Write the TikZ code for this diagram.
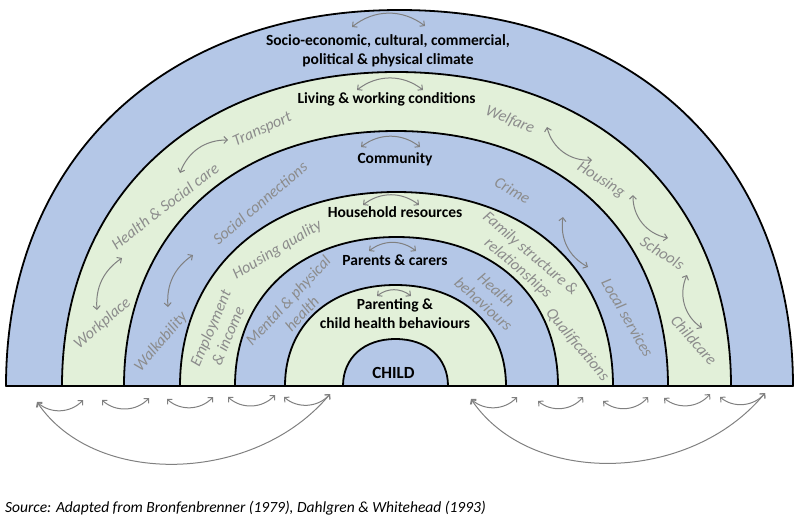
\documentclass[tikz,border=0pt]{standalone}
\usepackage{fontspec}
\setmainfont{Carlito}
\usetikzlibrary{arrows.meta}

\definecolor{ringblue}{RGB}{180,199,231}
\definecolor{ringgreen}{RGB}{226,240,217}
\definecolor{factorgrey}{RGB}{140,140,140}
\definecolor{linkgrey}{RGB}{128,128,128}

% half ring: centre x, x radius, height, fill
\newcommand\halfring[4]{%
  \filldraw[ring, fill=#4] ({#1-#2},-386)
    .. controls ({#1-#2},{-386+0.6*#3}) and ({#1-0.6*#2},{-386+#3}) .. (#1,{-386+#3})
    .. controls ({#1+0.6*#2},{-386+#3}) and ({#1+#2},{-386+0.6*#3}) .. ({#1+#2},-386)
    -- cycle;}

\begin{document}
\begin{tikzpicture}[
  x=1pt, y=1pt,
  ring/.style={draw=black, line width=1.8pt, line join=round},
  level/.style={font=\fontsize{15.5}{19}\selectfont\bfseries,
    align=center, inner sep=0pt},
  factor/.style={font=\fontsize{16}{19}\selectfont\itshape,
    text=factorgrey, align=center, inner sep=0pt},
  link/.style={{Straight Barb[length=3.5pt,width=7pt]}-{Straight Barb[length=3.5pt,width=7pt]},
    draw=linkgrey, line width=1pt}
]
\path[use as bounding box] (0,0) rectangle (800,-523);

% rings, from the outside in
\halfring{399.5}{393.5}{376}{ringblue}
\halfring{396.5}{334.5}{314}{ringgreen}
\halfring{396}{272}{255}{ringblue}
\halfring{396.5}{216.5}{194}{ringgreen}
\halfring{396.5}{161.5}{149}{ringblue}
\halfring{395.5}{110.5}{101}{ringgreen}
\halfring{395.5}{52.5}{47}{ringblue}

% levels
\node[level] (climate) at (388,-51) {Socio-economic, cultural, commercial,\\political \& physical climate};
\node[level] (living) at (386.5,-99) {Living \& working conditions};
\node[level] (community) at (395,-159) {Community};
\node[level] (household) at (395,-212) {Household resources};
\node[level] (parents) at (395,-260) {Parents \& carers};
\node[level] (parenting) at (395,-313.5) {Parenting \&\\child health behaviours};
\node[level, font=\fontsize{17}{19}\selectfont\bfseries] (child) at (393.5,-373) {CHILD};

% factors
\node[factor, rotate=24.6] (transport) at (262.5,-130) {Transport};
\node[factor, rotate=37.5] (healthcare) at (165,-206) {Health \& Social care};
\node[factor, rotate=40.5] (workplace) at (102.5,-323.5) {Workplace};
\node[factor, rotate=-22] (welfare) at (510,-120) {Welfare};
\node[factor, rotate=-32] (housing) at (601,-180) {Housing};
\node[factor, rotate=-32] (schools) at (662.5,-253) {Schools};
\node[factor, rotate=-48] (childcare) at (694,-340) {Childcare};
\node[factor, rotate=40.6] (connections) at (260,-203) {Social connections};
\node[factor, rotate=49.5] (walkability) at (161,-342) {Walkability};
\node[factor, rotate=-30] (crime) at (512.5,-190) {Crime};
\node[factor, rotate=-60] (services) at (627.5,-317.5) {Local services};
\node[factor, rotate=31] (quality) at (277.5,-250) {Housing quality};
\node[factor, rotate=67] (employment) at (219,-332) {Employment\\\& income};
\node[factor, rotate=-40.5] (family) at (524,-261) {Family structure \&\\relationships};
\node[factor, rotate=-50] (qualifications) at (577.5,-345) {Qualifications};
\node[factor, rotate=47] (mental) at (295,-307) {Mental \& physical\\health};
\node[factor, rotate=-42] (behaviours) at (490,-297) {Health\\behaviours};

\node[anchor=west, inner sep=0pt, font=\fontsize{15.5}{17}\selectfont\itshape] (source) at (5,-508)
  {Source: Adapted from Bronfenbrenner (1979), Dahlgren \& Whitehead (1993)};

% link ends
\coordinate (climate-l) at (352,-27);   \coordinate (climate-r) at (425,-26);
\coordinate (living-l) at (357,-90);    \coordinate (living-r) at (423,-90);
\coordinate (community-l) at (361,-147); \coordinate (community-r) at (420,-147);
\coordinate (household-l) at (363,-205); \coordinate (household-r) at (419,-205);
\coordinate (parents-l) at (369,-251);  \coordinate (parents-r) at (416,-251);
\coordinate (parenting-l) at (377,-296); \coordinate (parenting-r) at (411,-296);

\coordinate (transport-in) at (228,-140);  \coordinate (healthcare-up) at (180,-173);
\coordinate (healthcare-dn) at (122,-258); \coordinate (workplace-in) at (97,-310);
\coordinate (connections-dn) at (193,-255); \coordinate (walkability-in) at (168,-307);
\coordinate (welfare-in) at (547,-127);   \coordinate (housing-up) at (592,-160);
\coordinate (housing-dn) at (633,-195);   \coordinate (schools-up) at (668,-238);
\coordinate (schools-dn) at (687,-275);   \coordinate (childcare-in) at (702,-328);
\coordinate (crime-in) at (563,-217);     \coordinate (services-in) at (588,-267);

\coordinate (bl0) at (37,-402);  \coordinate (bl1) at (83,-400);
\coordinate (bl2) at (102,-400); \coordinate (bl3) at (149,-398);
\coordinate (bl4) at (167,-399); \coordinate (bl5) at (213,-397);
\coordinate (bl6) at (228,-397); \coordinate (bl7) at (275,-395);
\coordinate (bl8) at (284,-397); \coordinate (bl9) at (330,-394);
\coordinate (br0) at (471,-399); \coordinate (br1) at (517,-397);
\coordinate (br2) at (538,-401); \coordinate (br3) at (583,-397);
\coordinate (br4) at (603,-401); \coordinate (br5) at (648,-397);
\coordinate (br6) at (664,-398); \coordinate (br7) at (710,-394);
\coordinate (br8) at (720,-397); \coordinate (br9) at (765,-393);

% links
\draw[link] (climate-l) to[bend left=38] (climate-r);
\draw[link] (living-l) to[bend left=38] (living-r);
\draw[link] (community-l) to[bend left=38] (community-r);
\draw[link] (household-l) to[bend left=38] (household-r);
\draw[link] (parents-l) to[bend left=38] (parents-r);
\draw[link] (parenting-l) to[bend left=38] (parenting-r);

\draw[link] (healthcare-up) to[bend left=35] (transport-in);
\draw[link] (healthcare-dn) to[bend right=30] (workplace-in);
\draw[link] (connections-dn) to[bend right=30] (walkability-in);
\draw[link] (welfare-in) to[bend right=40] (housing-up);
\draw[link] (housing-dn) to[bend right=40] (schools-up);
\draw[link] (schools-dn) to[bend right=40] (childcare-in);
\draw[link] (crime-in) to[bend right=35] (services-in);

\draw[link] (bl0) to[bend right=45] (bl1);
\draw[link] (bl2) to[bend right=45] (bl3);
\draw[link] (bl4) to[bend right=45] (bl5);
\draw[link] (bl6) to[bend right=45] (bl7);
\draw[link] (bl8) to[bend right=45] (bl9);
\draw[link] (bl0) .. controls (95,-488) and (255,-484) .. (bl9);
\draw[link] (br0) to[bend right=45] (br1);
\draw[link] (br2) to[bend right=45] (br3);
\draw[link] (br4) to[bend right=45] (br5);
\draw[link] (br6) to[bend right=45] (br7);
\draw[link] (br8) to[bend right=45] (br9);
\draw[link] (br0) .. controls (530,-487) and (690,-484) .. (br9);
\end{tikzpicture}
\end{document}
